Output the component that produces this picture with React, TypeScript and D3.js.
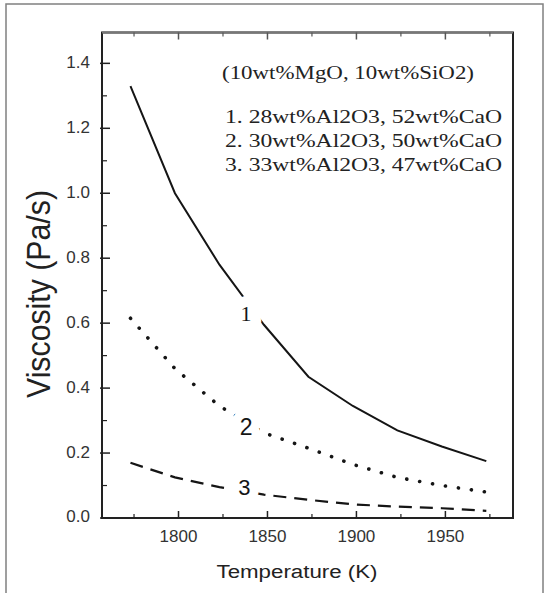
import * as d3 from "d3";

// temperature (K) and viscosity (Pa/s)
const temps = [1773, 1798, 1823, 1848, 1873, 1898, 1923, 1948, 1973];
const series1 = [1.33, 1.0, 0.78, 0.595, 0.435, 0.345, 0.27, 0.22, 0.175];
const series2 = [0.615, 0.46, 0.345, 0.262, 0.215, 0.165, 0.125, 0.1, 0.08];
const series3 = [0.17, 0.125, 0.095, 0.072, 0.056, 0.042, 0.035, 0.03, 0.022];

const xTicks = [1800, 1850, 1900, 1950];
const xMinor = [1775, 1825, 1875, 1925, 1975];
const yTicks = [0, 0.2, 0.4, 0.6, 0.8, 1.0, 1.2, 1.4];
const yMinor = [0.1, 0.3, 0.5, 0.7, 0.9, 1.1, 1.3];

const legendTitle = "(10wt%MgO, 10wt%SiO2)";
const legendLines = [
  "1. 28wt%Al2O3, 52wt%CaO",
  "2. 30wt%Al2O3, 50wt%CaO",
  "3. 33wt%Al2O3, 47wt%CaO",
];
const curveLabels = ["1", "2", "3"];
// temperature / value at which each curve's number sits
const labelAt = [
  { t: 1838, v: 0.63, font: "Liberation Serif", size: 22, halo: 22 },
  { t: 1838, v: 0.28, font: "Liberation Sans", size: 23, halo: 18 },
  { t: 1837, v: 0.095, font: "Liberation Sans", size: 22, halo: 18 },
];

export default function App() {
  const width = 545;
  const height = 593;
  const marginLeft = 102;
  const marginRight = 32;
  const marginTop = 32.5;
  const bottomY = 518;

  const x = d3
    .scaleLinear()
    .domain([1757, 1988])
    .range([marginLeft, width - marginRight]);
  const y = d3.scaleLinear().domain([0, 1.495]).range([bottomY, marginTop]);

  const line = d3
    .line<number>()
    .x((_, i) => x(temps[i]))
    .y((d) => y(d));

  const ink = "#151515";
  const series = [
    { values: series1, dash: undefined, width: 2, cap: "butt" },
    { values: series2, dash: "0.1 13", width: 3.6, cap: "round" },
    { values: series3, dash: "13 8", width: 2.2, cap: "butt" },
  ];

  return (
    <svg
      width={width}
      height={height}
      style={{ position: "absolute", left: 0, top: 0, background: "#fff" }}
    >
      {/* outer frame */}
      <rect x={6} y={4} width={537} height={600} fill="none" stroke="#808080" strokeWidth={1.5} />

      {/* curves */}
      {series.map((s, i) => (
        <path
          key={i}
          d={line(s.values) ?? ""}
          fill="none"
          stroke={ink}
          strokeWidth={s.width}
          strokeDasharray={s.dash}
          strokeLinecap={s.cap as any}
        />
      ))}

      {/* curve numbers, with a white halo that breaks the line */}
      {curveLabels.map((c, i) => (
        <text
          key={c}
          x={x(labelAt[i].t)}
          y={y(labelAt[i].v)}
          textAnchor="middle"
          dominantBaseline="central"
          fontFamily={labelAt[i].font}
          fontSize={labelAt[i].size}
          fill={ink}
          stroke="#fff"
          strokeWidth={labelAt[i].halo}
          strokeLinejoin="round"
          paintOrder="stroke"
        >
          {c}
        </text>
      ))}

      {/* plot box */}
      <rect
        x={marginLeft}
        y={marginTop}
        width={width - marginRight - marginLeft}
        height={bottomY - marginTop}
        fill="none"
        stroke="#222"
        strokeWidth={2}
      />
      <line x1={marginLeft} x2={width - marginRight} y1={marginTop} y2={marginTop} stroke="#777" strokeWidth={2} />

      {/* x ticks (bottom and top, inward) */}
      {xTicks.map((t) => (
        <g key={t}>
          <line x1={x(t)} x2={x(t)} y1={bottomY} y2={bottomY - 7} stroke="#222" strokeWidth={1.5} />
          <line x1={x(t)} x2={x(t)} y1={marginTop} y2={marginTop + 7} stroke="#555" strokeWidth={1.5} />
          <text
            x={x(t)}
            y={bottomY + 24}
            textAnchor="middle"
            fontFamily="Liberation Sans"
            fontSize={17}
            fill="#333"
          >
            {t}
          </text>
        </g>
      ))}
      {xMinor.map((t) => (
        <g key={t}>
          <line x1={x(t)} x2={x(t)} y1={bottomY} y2={bottomY - 4} stroke="#222" strokeWidth={1.2} />
          <line x1={x(t)} x2={x(t)} y1={marginTop} y2={marginTop + 4} stroke="#555" strokeWidth={1.2} />
        </g>
      ))}

      {/* y ticks */}
      {yTicks.map((t) => (
        <g key={t}>
          <line x1={marginLeft - 2} x2={marginLeft + 8} y1={y(t)} y2={y(t)} stroke="#222" strokeWidth={1.5} />
          <text
            x={marginLeft - 12}
            y={y(t)}
            textAnchor="end"
            dominantBaseline="middle"
            fontFamily="Liberation Sans"
            fontSize={17}
            fill="#333"
          >
            {t.toFixed(1)}
          </text>
        </g>
      ))}
      {yMinor.map((t) => (
        <line key={t} x1={marginLeft} x2={marginLeft + 5} y1={y(t)} y2={y(t)} stroke="#222" strokeWidth={1.2} />
      ))}

      {/* axis titles */}
      <text
        transform={`translate(50, 294) rotate(-90)`}
        textAnchor="middle"
        fontFamily="Liberation Sans"
        fontSize={34}
        textLength={208}
        lengthAdjust="spacingAndGlyphs"
        fill="#222"
      >
        Viscosity (Pa/s)
      </text>
      <text
        x={297}
        y={578}
        textAnchor="middle"
        fontFamily="Liberation Sans"
        fontSize={18}
        textLength={161}
        lengthAdjust="spacingAndGlyphs"
        fill="#222"
      >
        Temperature (K)
      </text>

      {/* legend text */}
      <text
        x={222}
        y={79}
        fontFamily="Liberation Serif"
        fontSize={19}
        textLength={252}
        lengthAdjust="spacingAndGlyphs"
        fill="#222"
      >
        {legendTitle}
      </text>
      {legendLines.map((l, i) => (
        <text
          key={l}
          x={502}
          y={123 + i * 24}
          textAnchor="end"
          fontFamily="Liberation Serif"
          fontSize={19}
          textLength={277}
          lengthAdjust="spacingAndGlyphs"
          fill="#222"
        >
          {l}
        </text>
      ))}
    </svg>
  );
}
